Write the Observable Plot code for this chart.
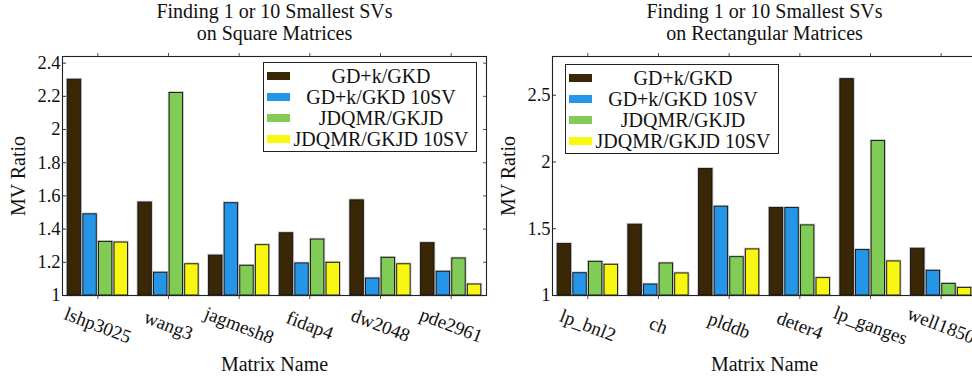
<!DOCTYPE html>
<html><head><meta charset="utf-8">
<script src="https://cdn.jsdelivr.net/npm/d3@7"></script>
<script src="https://cdn.jsdelivr.net/npm/@observablehq/plot@0.6"></script>
<style>
html,body{margin:0;padding:0;background:#fff;overflow:hidden;width:972px;height:377px;}
#wrap{position:relative;width:972px;height:377px;overflow:hidden;background:#fff;}
.panel{position:absolute;top:0;}
.legend{position:absolute;border:1px solid #222;background:#fff;font-family:"Liberation Serif","DejaVu Serif",serif;font-size:20px;color:#111;box-sizing:border-box;width:214px;height:90px;}
.sw{position:absolute;left:3px;width:23px;height:8px;transform:translateY(-50%);}
.lt{position:absolute;transform:translate(-50%,-50%);white-space:nowrap;line-height:1;}
</style>
</head><body>
<div id="wrap"></div>
<script>
const seriesNames = ["GD+k/GKD", "GD+k/GKD 10SV", "JDQMR/GKJD", "JDQMR/GKJD 10SV"];
const seriesColors = ["#3a2705", "#2595e8", "#80cc57", "#f7f711"];

const squareTitle = ["Finding 1 or 10 Smallest SVs", "on Square Matrices"];
const squareMatrices = ["lshp3025", "wang3", "jagmesh8", "fidap4", "dw2048", "pde2961"];
const squareGDK      = [2.30, 1.56, 1.24, 1.375, 1.573, 1.315];
const squareGDK10    = [1.489, 1.137, 1.556, 1.193, 1.102, 1.143];
const squareJDQMR    = [1.323, 2.22, 1.179, 1.337, 1.227, 1.223];
const squareJDQMR10  = [1.319, 1.188, 1.303, 1.197, 1.188, 1.066];
const squareYTicks   = [1, 1.2, 1.4, 1.6, 1.8, 2, 2.2, 2.4];
const squareYMax     = 2.44;

const rectTitle = ["Finding 1 or 10 Smallest SVs", "on Rectangular Matrices"];
const rectMatrices = ["lp_bnl2", "ch", "plddb", "deter4", "lp_ganges", "well1850"];
const rectGDK      = [1.385, 1.53, 1.947, 1.655, 2.62, 1.35];
const rectGDK10    = [1.167, 1.082, 1.665, 1.655, 1.34, 1.185];
const rectJDQMR    = [1.252, 1.24, 1.287, 1.525, 2.157, 1.087];
const rectJDQMR10  = [1.23, 1.165, 1.345, 1.13, 1.255, 1.057];
const rectYTicks   = [1, 1.5, 2, 2.5];
const rectYMax     = 2.79;

const yLabel = "MV Ratio";
const xLabel = "Matrix Name";

// layout of the grouped bars inside each category band (fractions of a band)
const PAD = 5.25 / 70.67, PITCH = 15.6 / 70.67, BARW = 13.4 / 70.67;
const fmt = d => String(+(+d).toFixed(2));
const FONT = '"Liberation Serif", "DejaVu Serif", serif';

function panel(title, names, seriesValues, yMax, yTicks) {
  const rows = [];
  names.forEach((n, i) => seriesValues.forEach((vals, j) =>
    rows.push({i, j, name: n, series: seriesNames[j], value: vals[i]})));
  const x1 = d => d.i - 0.5 + PAD + d.j * PITCH;
  const x2 = d => d.i - 0.5 + PAD + d.j * PITCH + BARW;
  const idx = d3.range(names.length);
  return Plot.plot({
    width: 490, height: 377,
    marginLeft: 62, marginRight: 4, marginTop: 56, marginBottom: 82,
    style: {fontFamily: FONT, fontSize: "18px", color: "#111", background: "transparent", overflow: "visible"},
    x: {domain: [-0.5, names.length - 0.5], axis: null},
    y: {domain: [1, yMax], axis: null},
    color: {domain: seriesNames, range: seriesColors},
    marks: [
      Plot.rectY(rows, {x1, x2, y1: 1, y2: "value", fill: "none", stroke: "#aaa", strokeWidth: 2.6, strokeOpacity: 0.7}),
      Plot.rectY(rows, {x1, x2, y1: 1, y2: "value", fill: "series", stroke: "#111", strokeWidth: 0.9}),
      Plot.axisY({ticks: yTicks, tickSize: -4, tickPadding: 6, tickFormat: fmt, label: null, fontSize: 18.5, stroke: "#333"}),
      Plot.axisY({anchor: "right", ticks: yTicks, tickSize: -4, tickFormat: () => "", label: null, stroke: "#555"}),
      Plot.axisX({ticks: idx, tickSize: 4, tickFormat: () => "", label: null, stroke: "#555"}),
      Plot.axisX({anchor: "top", ticks: idx, tickSize: 4, tickFormat: () => "", label: null, stroke: "#555"}),
      Plot.frame({stroke: "#222", strokeWidth: 1.1}),
      Plot.text(names, {x: (d, i) => i, frameAnchor: "bottom", dy: 30, rotate: 21, textAnchor: "middle", lineAnchor: "middle", fontSize: 19, fill: "#111"}),
      Plot.text([yLabel], {frameAnchor: "left", dx: -44, rotate: -90, textAnchor: "middle", lineAnchor: "middle", fontSize: 20, fill: "#111"}),
      Plot.text([xLabel], {frameAnchor: "bottom", dy: 69, textAnchor: "middle", lineAnchor: "middle", fontSize: 20, fill: "#111"}),
      Plot.text([title[0]], {frameAnchor: "top", dy: -45, textAnchor: "middle", lineAnchor: "middle", fontSize: 20, fill: "#111"}),
      Plot.text([title[1]], {frameAnchor: "top", dy: -23, textAnchor: "middle", lineAnchor: "middle", fontSize: 20, fill: "#111"})
    ]
  });
}

function legend(left, top) {
  const box = document.createElement("div");
  box.className = "legend";
  box.style.left = left + "px";
  box.style.top = top + "px";
  seriesNames.forEach((name, k) => {
    const cy = 12.5 + k * 21.33;
    const sw = document.createElement("div");
    sw.className = "sw";
    sw.style.top = cy + "px";
    sw.style.background = seriesColors[k];
    const t = document.createElement("div");
    t.className = "lt";
    t.style.left = "117px";
    t.style.top = cy + "px";
    t.textContent = name;
    box.appendChild(sw);
    box.appendChild(t);
  });
  return box;
}

const wrap = document.getElementById("wrap");
const p1 = panel(squareTitle, squareMatrices, [squareGDK, squareGDK10, squareJDQMR, squareJDQMR10], squareYMax, squareYTicks);
p1.classList.add("panel"); p1.style.left = "0px";
const p2 = panel(rectTitle, rectMatrices, [rectGDK, rectGDK10, rectJDQMR, rectJDQMR10], rectYMax, rectYTicks);
p2.classList.add("panel"); p2.style.left = "490px";
wrap.appendChild(p1);
wrap.appendChild(p2);
wrap.appendChild(legend(263, 62));
wrap.appendChild(legend(565, 64));
</script>
</body></html>
